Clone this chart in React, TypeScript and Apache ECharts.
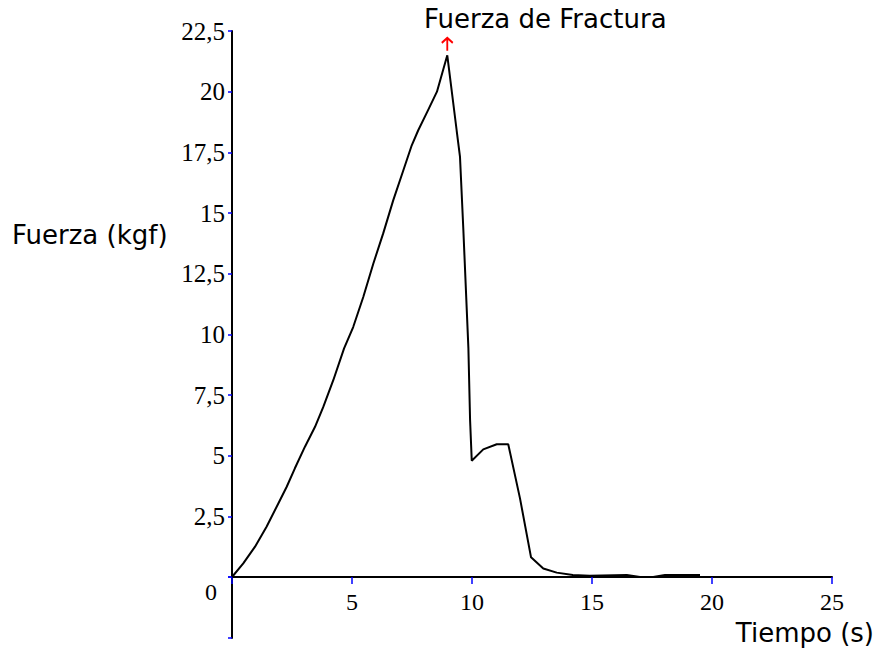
import React, { useEffect, useRef } from "react";
import * as echarts from "echarts";

const tiempo = [0, 0.47, 0.96, 1.44, 1.93, 2.28, 2.62, 3.04, 3.46, 3.8, 4.22, 4.67, 5.05, 5.47, 5.89, 6.3, 6.72, 7.14, 7.49, 7.76, 8.15, 8.54, 8.97, 9.36, 9.5, 9.64, 9.85, 9.92, 9.99, 10.47, 11.03, 11.51, 12.0, 12.46, 12.97, 13.53, 14.2, 14.9, 16.45, 17.0, 17.55, 18.04, 19.5];
const fuerza = [0, 0.56, 1.25, 2.07, 3.03, 3.72, 4.48, 5.37, 6.19, 7.0, 8.11, 9.42, 10.3, 11.54, 12.92, 14.16, 15.53, 16.76, 17.79, 18.41, 19.2, 20.0, 21.5, 18.41, 17.31, 14.3, 9.42, 6.47, 4.79, 5.26, 5.47, 5.47, 3.24, 0.81, 0.35, 0.18, 0.08, 0.05, 0.08, 0, 0, 0.08, 0.08];

const xTicks = [0, 5, 10, 15, 20, 25];
const yTicks = [0, 2.5, 5, 7.5, 10, 12.5, 15, 17.5, 20, 22.5];
const yExtension = [-2.5, 0];
const peak = { t: 8.97, f: 21.5 };

const titleText = "Fuerza de Fractura";
const yName = "Fuerza (kgf)";
const xName = "Tiempo (s)";

export default function App() {
  const ref = useRef<HTMLDivElement>(null);
  useEffect(() => {
    document.body.style.margin = "0";
    const chart = echarts.init(ref.current!, null, { renderer: "svg" });
    const serif = "'Liberation Serif', 'Times New Roman', serif";
    const sans = "'DejaVu Sans', Verdana, sans-serif";
    const tickStyle = { color: "#0000ff", width: 1.5 };
    chart.setOption({
      animation: false,
      backgroundColor: "#fff",
      grid: [
        { left: 232, top: 31, width: 600, height: 546, outerBoundsMode: "none", containLabel: false },
        { left: 232, top: 577, width: 600, height: 61, outerBoundsMode: "none", containLabel: false },
      ],
      xAxis: [
        {
          type: "value",
          gridIndex: 0,
          min: xTicks[0],
          max: xTicks[xTicks.length - 1],
          interval: 5,
          splitLine: { show: false },
          axisLine: { onZero: false, lineStyle: { color: "#000", width: 2 } },
          axisTick: { show: true, length: 7, lineStyle: tickStyle },
          axisLabel: {
            margin: 13,
            color: "#000",
            fontFamily: serif,
            fontSize: 24,
            formatter: (v: number) => (v === 0 ? "" : String(v)),
          },
        },
        {
          type: "value",
          gridIndex: 1,
          min: xTicks[0],
          max: xTicks[xTicks.length - 1],
          show: false,
        },
      ],
      yAxis: [
        {
          type: "value",
          gridIndex: 0,
          min: yTicks[0],
          max: yTicks[yTicks.length - 1],
          interval: 2.5,
          splitLine: { show: false },
          axisLine: { onZero: false, lineStyle: { color: "#000", width: 2 } },
          axisTick: { show: true, length: 4, lineStyle: tickStyle },
          axisLabel: {
            margin: 7,
            color: "#000",
            fontFamily: serif,
            fontSize: 25,
            formatter: (v: number) => (v === 0 ? "{z|0}" : String(v).replace(".", ",")),
            rich: {
              z: { fontFamily: serif, fontSize: 24, color: "#000", padding: [30, 8, 0, 0] },
            },
          },
        },
        {
          type: "value",
          gridIndex: 1,
          min: yExtension[0],
          max: yExtension[1],
          interval: 2.5,
          splitLine: { show: false },
          axisLine: { onZero: false, lineStyle: { color: "#000", width: 2 } },
          axisTick: { show: true, length: 4, lineStyle: tickStyle },
          axisLabel: { show: false },
        },
      ],
      graphic: [
        {
          type: "text",
          left: 424,
          top: 6,
          style: { text: titleText, fontFamily: sans, fontSize: 26, fill: "#000" },
        },
        {
          type: "text",
          left: 12,
          top: 222,
          style: { text: yName, fontFamily: sans, fontSize: 26, fill: "#000" },
        },
        {
          type: "text",
          right: 6,
          top: 620,
          style: { text: xName, fontFamily: sans, fontSize: 26, fill: "#000" },
        },
      ],
      series: [
        {
          type: "line",
          xAxisIndex: 0,
          yAxisIndex: 0,
          data: tiempo.map((t, i) => [t, fuerza[i]]),
          showSymbol: false,
          symbol: "none",
          lineStyle: { color: "#000", width: 2 },
          markPoint: {
            silent: true,
            data: [
              {
                coord: [peak.t, peak.f],
                symbol: "path://M5,0 L5,13 M0,5 L5,0 L10,5",
                symbolSize: [11, 13],
                symbolOffset: [0, -11],
                itemStyle: { color: "transparent", borderColor: "#ff0000", borderWidth: 2 },
                label: { show: false },
              },
            ],
          },
        },
      ],
    });
    return () => chart.dispose();
  }, []);
  return <div ref={ref} style={{ width: 880, height: 648 }} />;
}
